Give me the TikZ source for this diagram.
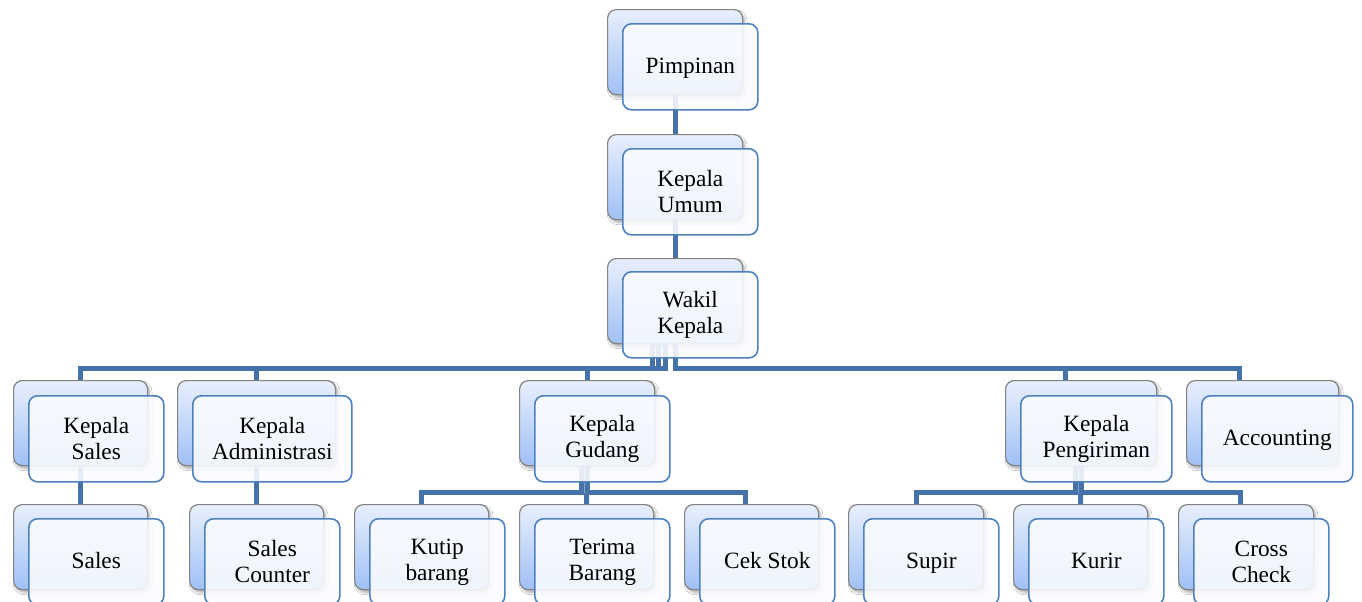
\documentclass[tikz,border=0pt]{standalone}
\usepackage{fontspec}
\setmainfont{Liberation Serif}
\usetikzlibrary{shadows.blur,calc}

\definecolor{linkblue}{RGB}{70,114,170}
\definecolor{edgeblue}{RGB}{79,129,189}
\definecolor{cardtop}{RGB}{232,239,253}
\definecolor{cardbot}{RGB}{160,192,245}
\definecolor{cardedge}{RGB}{130,130,130}
\definecolor{facefill}{RGB}{250,252,255}
\newcommand\pxu{0.75pt}

\tikzset{
  backcard/.style={draw=cardedge, line width=0.9pt, rounded corners=6.5pt,
    top color=cardtop, bottom color=cardbot, inner sep=0pt, anchor=north west,
    minimum width=#1*\pxu, minimum height=85*\pxu,
    blur shadow={shadow xshift=1.5pt, shadow yshift=-2pt, shadow opacity=35, shadow blur steps=6}},
  backcard/.default=135,
  facecard/.style={draw=edgeblue, line width=1.2pt, rounded corners=6.5pt,
    fill=facefill, fill opacity=0.88, text opacity=1, inner sep=0pt, anchor=north west,
    minimum width=#1*\pxu, minimum height=86*\pxu, align=center,
    font=\fontsize{17.5}{19.5}\selectfont},
  facecard/.default=135,
  % one-line labels sit a little lower in their cards
  lowlabel/.style={text depth=1.5pt},
  link/.style={draw=linkblue, line width=3.75pt}
}

\begin{document}
\begin{tikzpicture}[x=\pxu, y=-\pxu]
\useasboundingbox (0,0) rectangle (1362,601);
\fill[white] (0,0) rectangle (1362,601);

% ---- back cards (shaded layer) ----
\node[backcard] (pimB)   at (607,9)   {};
\node[backcard] (umumB)  at (607,134) {};
\node[backcard] (wakB)   at (607,258) {};

\node[backcard=134] (ksalesB) at (13,380)   {};
\node[backcard=158] (kadmB)   at (177,380)  {};
\node[backcard=135] (kgudB)   at (519,380)  {};
\node[backcard=151] (kpengB)  at (1005,380) {};
\node[backcard=152] (accB)    at (1186,380) {};

\node[backcard=134] (salesB)  at (13,504)   {};
\node[backcard=134] (scntB)   at (189,504)  {};
\node[backcard=134] (kutipB)  at (354,504)  {};
\node[backcard=134] (terimaB) at (519,504)  {};
\node[backcard=134] (cekB)    at (684,504)  {};
\node[backcard=135] (supirB)  at (848,504)  {};
\node[backcard=134] (kurirB)  at (1013,504) {};
\node[backcard=135] (crossB)  at (1178,504) {};

% ---- connectors ----
\draw[link] (pimB.south) -- (umumB.north);
\draw[link] (umumB.south) -- (wakB.north);

\draw[link] ($(wakB.south)+(-23,0)$) -- ++(0,24) -| (ksalesB.north);
\draw[link] ($(wakB.south)+(-17,0)$) -- ++(0,24) -| (kadmB.north);
\draw[link] ($(wakB.south)+(-10,0)$) -- ++(0,24) -| (kgudB.north);
\draw[link] (wakB.south) -- ++(0,24) -| ($(kpengB.north)+(-16,0)$);
\draw[link] (wakB.south) -- ++(0,24) -| ($(accB.north)+(-23,0)$);

\draw[link] (ksalesB.south) -- (salesB.north);
\draw[link] (kadmB.south) -- (scntB.north);

\draw[link] ($(kgudB.south)+(-6,0)$) -- ++(0,26) -| (kutipB.north);
\draw[link] (kgudB.south) -- (terimaB.north);
\draw[link] (kgudB.south) -- ++(0,26) -| ($(cekB.north)+(-6,0)$);

\draw[link] ($(kpengB.south)+(-6,0)$) -- ++(0,26) -| (supirB.north);
\draw[link] (kpengB.south) -- (kurirB.north);
\draw[link] (kpengB.south) -- ++(0,26) -| ($(crossB.north)+(-6,0)$);

% ---- front cards (labels) ----
\node[facecard, lowlabel] (pim)   at (622,23)  {Pimpinan};
\node[facecard] (umum)  at (622,148) {Kepala\\Umum};
\node[facecard] (wak)   at (622,271) {Wakil\\Kepala};

\node[facecard=135] (ksales) at (28,395)   {Kepala\\Sales};
\node[facecard=159] (kadm)   at (192,395)  {Kepala\\Administrasi};
\node[facecard=135] (kgud)   at (534,395)  {Kepala\\Gudang};
\node[facecard=151] (kpeng)  at (1020,395) {Kepala\\Pengiriman};
\node[facecard=151, lowlabel] (acc)    at (1201,395) {Accounting};

\node[facecard=135, lowlabel] (sales)  at (28,518)   {Sales};
\node[facecard=135] (scnt)   at (204,518)  {Sales\\Counter};
\node[facecard=135] (kutip)  at (369,518)  {Kutip\\barang};
\node[facecard=135] (terima) at (534,518)  {Terima\\Barang};
\node[facecard=135, lowlabel] (cek)    at (699,518)  {Cek Stok};
\node[facecard=135, lowlabel] (supir)  at (863,518)  {Supir};
\node[facecard=135, lowlabel] (kurir)  at (1028,518) {Kurir};
\node[facecard=135] (cross)  at (1193,518) {Cross\\Check};
\end{tikzpicture}
\end{document}
